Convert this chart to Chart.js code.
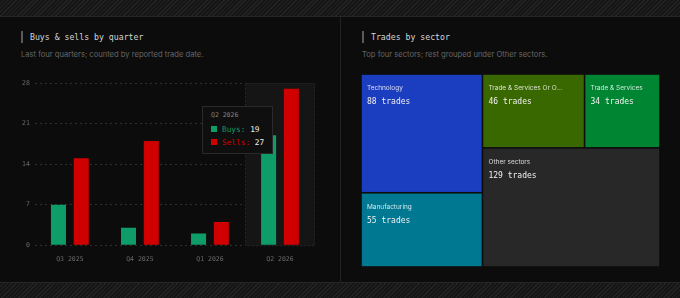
<!DOCTYPE html>
<html>
<head>
<meta charset="utf-8">
<script src="https://cdn.jsdelivr.net/npm/chart.js@4.4.1/dist/chart.umd.min.js"></script>
<style>
  html, body { margin: 0; padding: 0; background: #0b0b0b; }
  body { width: 680px; height: 298px; position: relative; overflow: hidden; }
  .hatch { position: absolute; left: 0; width: 680px; height: 16px;
    background: repeating-linear-gradient(-45deg, #232323 0 1px, #161616 1px 3px); }
  .hatch.top { top: 0; border-bottom: 1px solid #262626; }
  .hatch.bottom { top: 282px; border-top: 1px solid #262626; }
  .panel { position: absolute; top: 17px; height: 265px; background: #0c0c0c; }
  #left { left: 0; width: 339px; }
  #right { left: 340px; width: 340px; border-left: 1px solid #222; }
  .title { position: absolute; top: 14px; left: 21px; padding-left: 7px;
    border-left: 2px solid #5a5a5a; font: 8.2px "DejaVu Sans Mono", monospace;
    color: #d6d6d6; line-height: 12px; }
  .sub { position: absolute; top: 33px; left: 21px; font: 7.6px Inter, sans-serif; color: #666; }
  .box { position: absolute; }
  #tip { position: absolute; background: #0f0f0f; border: 1px solid #2a2a2a;
    padding: 4px 8px 4px 8px; pointer-events: none; white-space: nowrap; }
  #tip .t { font: 6.5px "DejaVu Sans Mono", monospace; color: #808080; margin-bottom: 4px; }
  #tip .r { font: 7.8px "DejaVu Sans Mono", monospace; color: #eee; line-height: 13px; }
  #tip .sw { display: inline-block; width: 6px; height: 6px; margin-right: 5px; vertical-align: 0px; }
</style>
</head>
<body>
<div class="hatch top"></div>
<div class="hatch bottom"></div>

<div class="panel" id="left">
  <div class="title">Buys &amp; sells by quarter</div>
  <div class="sub">Last four quarters; counted by reported trade date.</div>
  <div class="box" style="left:17px; top:51px; width:314px; height:197px;">
    <canvas id="bars"></canvas>
  </div>
  <div id="tip"></div>
</div>

<div class="panel" id="right">
  <div class="title">Trades by sector</div>
  <div class="sub">Top four sectors; rest grouped under Other sectors.</div>
  <div class="box" style="left:20px; top:57px; width:299px; height:193px;">
    <canvas id="tree"></canvas>
  </div>
</div>

<script>
// ---- data ----
const quarters = ['Q3 2025', 'Q4 2025', 'Q1 2026', 'Q2 2026'];
const buys = [7, 3, 2, 19];
const sells = [15, 18, 4, 27];
const yTicks = [0, 7, 14, 21, 28];
const activeQuarter = 3;

const sectors = ['Technology', 'Manufacturing', 'Trade & Services Or Other', 'Trade & Services', 'Other sectors'];
const sectorTrades = [88, 55, 46, 34, 129];
const sectorColors = ['#1b3dbf', '#007892', '#3a6800', '#008632', '#282828'];
const LABEL_MAX_CHARS = 22;

const GREEN = '#0e9c69';
const RED = '#d10000';
const MONO = '"DejaVu Sans Mono", monospace';

// ---- バーチャート ----
const hoverColumn = {
  id: 'hoverColumn',
  beforeDatasetsDraw(chart) {
    const { ctx, chartArea, scales } = chart;
    const x = scales.x.getPixelForValue(activeQuarter);
    const half = (chartArea.width / quarters.length) / 2;
    ctx.save();
    ctx.fillStyle = '#151515';
    ctx.fillRect(x - half, chartArea.top, half * 2, chartArea.bottom - chartArea.top + 1);
    ctx.strokeStyle = '#252525';
    ctx.setLineDash([2, 2]);
    ctx.strokeRect(x - half + 0.5, chartArea.top + 0.5, half * 2 - 1, chartArea.bottom - chartArea.top);
    ctx.restore();
  }
};

function externalTip(context) {
  const tip = document.getElementById('tip');
  const model = context.tooltip;
  if (model.opacity === 0) { tip.style.display = 'none'; return; }
  const idx = model.dataPoints[0].dataIndex;
  tip.innerHTML =
    '<div class="t">' + quarters[idx] + '</div>' +
    '<div class="r"><span class="sw" style="background:' + GREEN + '"></span><span style="color:' + GREEN + '">Buys:</span> ' + buys[idx] + '</div>' +
    '<div class="r"><span class="sw" style="background:' + RED + '"></span><span style="color:' + RED + '">Sells:</span> ' + sells[idx] + '</div>';
  tip.style.display = 'block';
  const box = context.chart.canvas.parentNode;
  tip.style.left = (box.offsetLeft + model.caretX - tip.offsetWidth - 7) + 'px';
  tip.style.top = (box.offsetTop + model.caretY - 6) + 'px';
}

const barChart = new Chart(document.getElementById('bars'), {
  type: 'bar',
  data: {
    labels: quarters,
    datasets: [
      { label: 'Buys', data: buys, backgroundColor: GREEN, hoverBackgroundColor: GREEN, borderWidth: 0 },
      { label: 'Sells', data: sells, backgroundColor: RED, hoverBackgroundColor: RED, borderWidth: 0 }
    ]
  },
  options: {
    responsive: true,
    maintainAspectRatio: false,
    animation: false,
    datasets: { bar: { categoryPercentage: 0.65, barPercentage: 0.66 } },
    layout: { padding: { left: 0, right: 16, top: 15, bottom: 0 } },
    interaction: { mode: 'index', intersect: false },
    scales: {
      x: {
        grid: { display: false },
        border: { display: false },
        ticks: { color: '#6a6a6a', font: { family: MONO, size: 6.5 }, padding: 2 }
      },
      y: {
        min: 0, max: 28,
        afterBuildTicks: (axis) => { axis.ticks = yTicks.map(v => ({ value: v })); },
        grid: { color: '#2e2e2e', drawTicks: false },
        border: { display: false, dash: [2, 3] },
        ticks: { color: '#6a6a6a', font: { family: MONO, size: 6.5 }, padding: 5 }
      }
    },
    plugins: {
      legend: { display: false },
      tooltip: { enabled: false, external: externalTip }
    }
  },
  plugins: [hoverColumn]
});

const act = [{ datasetIndex: 0, index: activeQuarter }, { datasetIndex: 1, index: activeQuarter }];
barChart.setActiveElements(act);
barChart.tooltip.setActiveElements(act, { x: 0, y: 0 });
barChart.update('none');

// ---- ツリーマップ（squarify） ----
function worst(row, short) {
  const s = row.reduce((a, r) => a + r.a, 0);
  let w = 0;
  row.forEach(r => { w = Math.max(w, (short * short * r.a) / (s * s), (s * s) / (short * short * r.a)); });
  return w;
}

function squarify(values, W, H) {
  const total = values.reduce((a, b) => a + b, 0);
  const k = (W * H) / total;
  let items = values.map((v, i) => ({ i, a: v * k }));
  const out = [];
  let x = 0, y = 0, w = W, h = H;
  while (items.length) {
    const short = Math.min(w, h);
    let row = [items[0]];
    let best = worst(row, short);
    for (let j = 1; j < items.length; j++) {
      const next = row.concat(items[j]);
      const wn = worst(next, short);
      if (wn > best) break;
      row = next; best = wn;
    }
    const area = row.reduce((a, r) => a + r.a, 0);
    if (w >= h) {
      const cw = area / h; let cy = y;
      row.forEach(r => { const rh = r.a / cw; out[r.i] = { x, y: cy, w: cw, h: rh }; cy += rh; });
      x += cw; w -= cw;
    } else {
      const rh = area / w; let cx = x;
      row.forEach(r => { const rw = r.a / rh; out[r.i] = { x: cx, y, w: rw, h: rh }; cx += rw; });
      y += rh; h -= rh;
    }
    items = items.slice(row.length);
  }
  return out.map(r => ({ x0: r.x / W, y0: r.y / H, x1: (r.x + r.w) / W, y1: (r.y + r.h) / H }));
}

function shortLabel(text) {
  return text.length > LABEL_MAX_CHARS ? text.slice(0, LABEL_MAX_CHARS - 1) + '...' : text;
}

const treemapCells = {
  id: 'treemapCells',
  afterDatasetsDraw(chart) {
    const { ctx, chartArea, scales } = chart;
    const rects = squarify(sectorTrades, chartArea.width, chartArea.height);
    ctx.save();
    rects.forEach((r, i) => {
      const px0 = scales.x.getPixelForValue(r.x0), px1 = scales.x.getPixelForValue(r.x1);
      const py0 = scales.y.getPixelForValue(r.y0), py1 = scales.y.getPixelForValue(r.y1);
      const gap = 0.8;
      ctx.fillStyle = sectorColors[i];
      ctx.fillRect(px0 + gap, py0 + gap, px1 - px0 - gap * 2, py1 - py0 - gap * 2);
      ctx.textBaseline = 'alphabetic';
      ctx.fillStyle = 'rgba(255,255,255,0.82)';
      ctx.font = '6.5px Inter, sans-serif';
      ctx.fillText(shortLabel(sectors[i]), px0 + 6, py0 + 16);
      ctx.fillStyle = '#f0f0f0';
      ctx.font = '8px ' + MONO;
      ctx.fillText(sectorTrades[i] + ' trades', px0 + 6, py0 + 30);
    });
    ctx.restore();
  }
};

new Chart(document.getElementById('tree'), {
  type: 'scatter',
  data: { datasets: [{ data: [] }] },
  options: {
    responsive: true,
    maintainAspectRatio: false,
    animation: false,
    layout: { padding: 0 },
    scales: {
      x: { display: false, min: 0, max: 1 },
      y: { display: false, min: 0, max: 1, reverse: true }
    },
    plugins: { legend: { display: false }, tooltip: { enabled: false } }
  },
  plugins: [treemapCells]
});
</script>
</body>
</html>
